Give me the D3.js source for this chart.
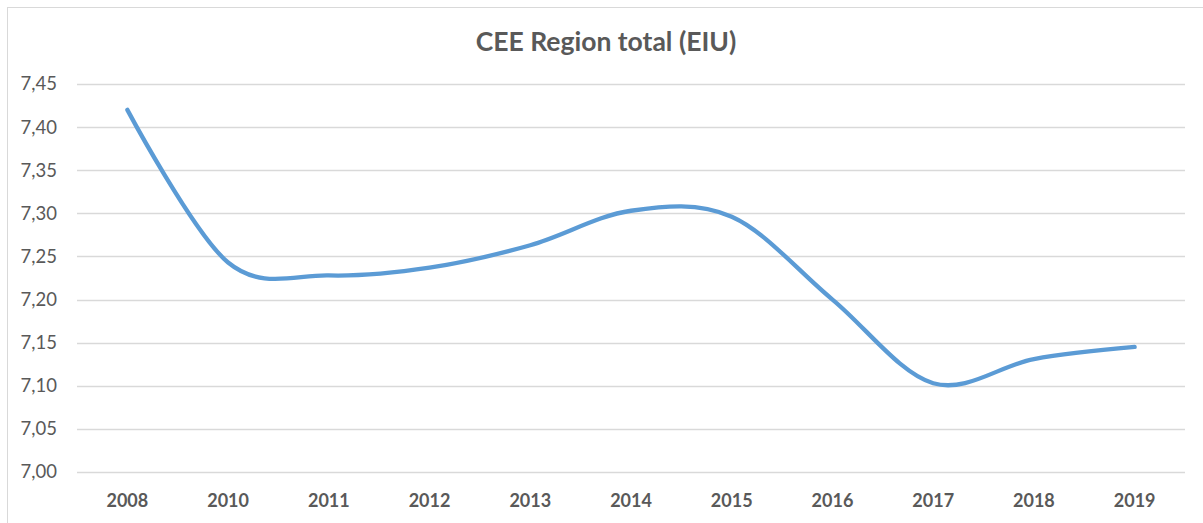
<!DOCTYPE html>
<html>
<head>
<meta charset="utf-8">
<script src="https://cdn.jsdelivr.net/npm/d3@7"></script>
<style>
  html, body { margin: 0; padding: 0; background: #fff; }
  svg { display: block; }
</style>
</head>
<body>
<svg id="chart" width="1203" height="523"></svg>
<script>
const title = "CEE Region total (EIU)";
const categories = ["2008", "2010", "2011", "2012", "2013", "2014", "2015", "2016", "2017", "2018", "2019"];
const values = [7.42, 7.243, 7.228, 7.237, 7.263, 7.303, 7.296, 7.20, 7.103, 7.131, 7.145];
const yTicks = [7.00, 7.05, 7.10, 7.15, 7.20, 7.25, 7.30, 7.35, 7.40, 7.45];

const svg = d3.select("#chart");
const W = 1203, H = 523;
const plot = { left: 77, right: 1185, top: 84, bottom: 472 };
const textColor = "#595959";
const font = "Lato, 'Open Sans', sans-serif";

// chart border
svg.append("rect")
  .attr("x", 7.5).attr("y", 7.5)
  .attr("width", W).attr("height", H)
  .attr("fill", "#fff")
  .attr("stroke", "#d9d9d9").attr("stroke-width", 1);

const x = d3.scaleBand().domain(categories).range([plot.left, plot.right]).padding(0);
const y = d3.scaleLinear().domain([7.00, 7.45]).range([plot.bottom, plot.top]);

// gridlines
svg.append("g").selectAll("line").data(yTicks).join("line")
  .attr("x1", plot.left).attr("x2", plot.right)
  .attr("y1", d => Math.round(y(d)) + 0.5).attr("y2", d => Math.round(y(d)) + 0.5)
  .attr("stroke", "#d9d9d9").attr("stroke-width", 1.3);

// y axis labels
const fmt = d => d3.format(".2f")(d).replace(".", ",");
const yAxis = d3.axisLeft(y).tickValues(yTicks).tickFormat(fmt).tickSize(0).tickPadding(0);
const gy = svg.append("g").attr("transform", `translate(57,0)`).call(yAxis);
gy.select(".domain").remove();
gy.selectAll("text")
  .attr("fill", textColor)
  .style("font-family", font)
  .style("font-size", "18.5px");

// x axis labels
const xAxis = d3.axisBottom(x).tickSize(0).tickPadding(0);
const gx = svg.append("g").attr("transform", `translate(0,${plot.bottom})`).call(xAxis);
gx.select(".domain").remove();
gx.selectAll("text")
  .attr("dy", null)
  .attr("y", 35)
  .attr("fill", textColor)
  .style("font-family", font)
  .style("font-weight", "bold")
  .style("font-size", "18px");

// line
const line = d3.line()
  .x((d, i) => x(categories[i]) + x.bandwidth() / 2)
  .y(d => y(d))
  .curve(d3.curveCatmullRom.alpha(0));

svg.append("path")
  .datum(values)
  .attr("d", line)
  .attr("fill", "none")
  .attr("stroke", "#5b9bd5")
  .attr("stroke-width", 4.3)
  .attr("stroke-linecap", "round")
  .attr("stroke-linejoin", "round");

// title
svg.append("text")
  .attr("x", 606).attr("y", 51)
  .attr("text-anchor", "middle")
  .attr("fill", textColor)
  .style("font-family", font)
  .style("font-weight", "bold")
  .style("font-size", "26.5px")
  .text(title);
</script>
</body>
</html>
